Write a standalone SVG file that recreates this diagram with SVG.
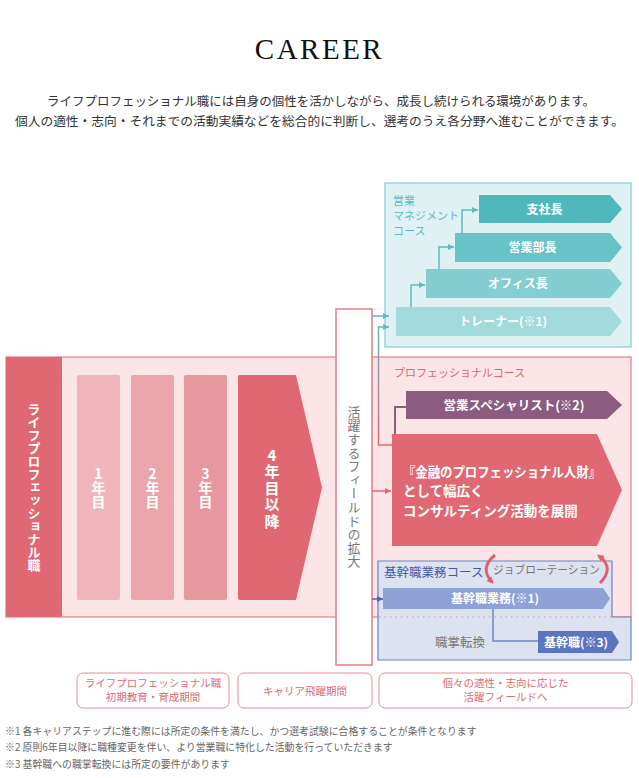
<svg xmlns="http://www.w3.org/2000/svg" width="639" height="778" viewBox="0 0 639 778">
<style>
.jp{font-family:"Noto Sans CJK JP","Noto Sans",sans-serif}
.w{fill:#fff;font-weight:bold}
.vt{writing-mode:vertical-rl;text-orientation:upright}
.lbl{fill:#e06872;font-size:10.5px}
.fn{fill:#666;font-size:9.9px}
.tl{fill:none;stroke:#5cbcc1;stroke-width:1.5}
</style>
<defs>
<marker id="mTeal" viewBox="0 0 6 6" markerWidth="6" markerHeight="6" markerUnits="userSpaceOnUse" refX="6" refY="3" orient="auto"><path d="M0,0 L6,3 L0,6 z" fill="#5cbcc1"/></marker>
<marker id="mPink" viewBox="0 0 6 6" markerWidth="6" markerHeight="6" markerUnits="userSpaceOnUse" refX="6" refY="3" orient="auto"><path d="M0,0 L6,3 L0,6 z" fill="#e06872"/></marker>
<marker id="mBlue" viewBox="0 0 6 6" markerWidth="6" markerHeight="6" markerUnits="userSpaceOnUse" refX="6" refY="3" orient="auto"><path d="M0,0 L6,3 L0,6 z" fill="#4a66b8"/></marker>
<marker id="mRed" viewBox="0 0 6 6" markerWidth="7" markerHeight="7" markerUnits="userSpaceOnUse" refX="4" refY="3" orient="auto"><path d="M0,0 L6,3 L0,6 z" fill="#e0606e"/></marker>
<linearGradient id="gTP" gradientUnits="userSpaceOnUse" x1="0" y1="327" x2="0" y2="445"><stop offset="0" stop-color="#5cbcc1"/><stop offset="1" stop-color="#e06872"/></linearGradient>
</defs>

<g id="title"><text x="319.5" y="59" text-anchor="middle" font-family="Liberation Serif,serif" font-size="29" letter-spacing="2.5" fill="#111">CAREER</text></g>
<g id="intro" class="jp" fill="#333" font-size="12.5">
<text x="47" y="105.5" textLength="548" lengthAdjust="spacingAndGlyphs">ライフプロフェッショナル職には自身の個性を活かしながら、成長し続けられる環境があります。</text>
<text x="15" y="125.5" textLength="609" lengthAdjust="spacingAndGlyphs">個人の適性・志向・それまでの活動実績などを総合的に判断し、選考のうえ各分野へ進むことができます。</text>
</g>

<g id="pro-area">
<rect x="6" y="357" width="625" height="260" fill="#fbe5e7" stroke="#e57c86" stroke-width="1.2"/>
</g>
<g id="kikan-course">
<path d="M378 561 H612 V617 H631 V660 H378 Z" fill="#dde2f0" stroke="#6b84c6" stroke-width="1.2"/>
<line x1="379" y1="617" x2="611" y2="617" stroke="#e88a93" stroke-width="1.2" stroke-dasharray="1.5 4"/>
<text class="jp" x="384" y="577" font-size="12.5" fill="#3f5aa6">基幹職業務コース</text>
<text class="jp" x="493" y="574" font-size="11.5" fill="#777" textLength="107" lengthAdjust="spacingAndGlyphs">ジョブローテーション</text>
<text class="jp" x="435" y="646.5" font-size="12.5" fill="#777">職掌転換</text>
</g>
<g id="mgmt-course">
<rect x="385" y="183" width="246" height="164" fill="#dff1f3" stroke="#86cdd2" stroke-width="1.2"/>
<text class="jp" x="393" y="205" font-size="11" fill="#5bbcc1">営業</text>
<text class="jp" x="393" y="219.5" font-size="11" fill="#5bbcc1">マネジメント</text>
<text class="jp" x="393" y="234.5" font-size="11" fill="#5bbcc1">コース</text>
</g>

<g id="node-lifepro">
<rect x="6" y="357" width="56" height="260" fill="#e06872"/>
<text class="jp w vt" x="34" y="487" text-anchor="middle" font-size="13">ライフプロフェッショナル職</text>
</g>
<g id="node-year1"><rect x="77" y="375" width="43" height="225" rx="2" fill="#efb5ba"/><text class="jp w vt" x="98.5" y="488" text-anchor="middle" font-size="14">1年目</text></g>
<g id="node-year2"><rect x="131" y="375" width="43" height="225" rx="2" fill="#eba6ac"/><text class="jp w vt" x="152.5" y="488" text-anchor="middle" font-size="14">2年目</text></g>
<g id="node-year3"><rect x="184" y="375" width="43" height="225" rx="2" fill="#e7989e"/><text class="jp w vt" x="205.5" y="488" text-anchor="middle" font-size="14">3年目</text></g>
<g id="node-year4"><path d="M240 375 H296 L322 487.5 L296 600 H240 Q238 600 238 598 V377 Q238 375 240 375 Z" fill="#e06872"/><text class="jp w vt" x="272" y="489" text-anchor="middle" font-size="15" letter-spacing="1.5">4年目以降</text></g>

<g id="node-field">
<rect x="336" y="309" width="36" height="356" fill="#fff" stroke="#e57c86" stroke-width="1.5"/>
<text class="jp vt" x="354" y="487" text-anchor="middle" font-size="13" letter-spacing="0.6" fill="#777">活躍するフィールドの拡大</text>
</g>

<g id="node-shishacho"><path d="M479 195 H610 L622 209 L610 223 H479 Z" fill="#4fb8bd"/><text class="jp w" x="544.5" y="213.5" text-anchor="middle" font-size="12">支社長</text></g>
<g id="node-eigyobucho"><path d="M455 233 H610 L622 247.5 L610 262 H455 Z" fill="#68c3c7"/><text class="jp w" x="532.5" y="252" text-anchor="middle" font-size="12">営業部長</text></g>
<g id="node-office"><path d="M426 269 H610 L622 283.5 L610 298 H426 Z" fill="#84ced1"/><text class="jp w" x="518" y="288" text-anchor="middle" font-size="12">オフィス長</text></g>
<g id="node-trainer"><path d="M396 307 H610 L622 321.5 L610 336 H396 Z" fill="#a3dadc"/><text class="jp w" x="503" y="326" text-anchor="middle" font-size="12">トレーナー(※1)</text></g>

<g id="pro-label"><text class="jp" x="394" y="377" font-size="11" fill="#e06872">プロフェッショナルコース</text></g>
<g id="node-specialist"><path d="M406 391 H607 L622 405 L607 419 H406 Z" fill="#8b5b80"/><text class="jp w" x="514" y="409.5" text-anchor="middle" font-size="12.5">営業スペシャリスト(※2)</text></g>
<g id="node-professional">
<path d="M392 434 H597 L622 490 L597 546 H392 Z" fill="#e06872"/>
<text class="jp w" x="403" y="476.5" font-size="13.5" textLength="198" lengthAdjust="spacingAndGlyphs">『金融のプロフェッショナル人財』</text>
<text class="jp w" x="403" y="496" font-size="13.5">として幅広く</text>
<text class="jp w" x="403" y="516" font-size="13.5">コンサルティング活動を展開</text>
</g>

<g id="node-kikangyomu"><path d="M383 588 H603 L610 598.5 L603 609 H383 Z" fill="#8fa2d6"/><text class="jp w" x="495" y="603" text-anchor="middle" font-size="12">基幹職業務(※1)</text></g>
<g id="node-kikanshoku"><path d="M538 631 H612 L619 642 L612 653 H538 Z" fill="#5b75bf"/><text class="jp w" x="576" y="646.5" text-anchor="middle" font-size="12">基幹職(※3)</text></g>

<g id="connectors">
<path class="tl" d="M411 307 V285 H425" marker-end="url(#mTeal)"/>
<path class="tl" d="M439 269 V247 H454" marker-end="url(#mTeal)"/>
<path class="tl" d="M462 233 V210 H478" marker-end="url(#mTeal)"/>
<path class="tl" d="M372 316 H389" marker-end="url(#mTeal)"/>
<path d="M392 445 H378.5 V327 H389" fill="none" stroke="url(#gTP)" stroke-width="1.5" marker-end="url(#mTeal)"/>
<path d="M395 434 V407 H406" fill="none" stroke="#8b5b80" stroke-width="2"/>
<path d="M372 491 H391" fill="none" stroke="#e06872" stroke-width="1.5" marker-end="url(#mPink)"/>
<path d="M372 599 H383" fill="none" stroke="#4a66b8" stroke-width="1.5" marker-end="url(#mBlue)"/>
<path d="M493 609 V641 H538" fill="none" stroke="#6b84c6" stroke-width="1.5"/>
<path d="M495 555 Q479 568 492 582" fill="none" stroke="#e0606e" stroke-width="3" marker-end="url(#mRed)"/>
<path d="M600 583 Q615 568 599 556" fill="none" stroke="#e0606e" stroke-width="3" marker-end="url(#mRed)"/>
</g>

<g id="bottom-labels" class="jp">
<rect x="77" y="673" width="152" height="35" rx="6" fill="#fff" stroke="#e88a93"/>
<text class="lbl" x="153" y="687" text-anchor="middle">ライフプロフェッショナル職</text>
<text class="lbl" x="153" y="701" text-anchor="middle">初期教育・育成期間</text>
<rect x="238" y="673" width="134" height="35" rx="6" fill="#fff" stroke="#e88a93"/>
<text class="lbl" x="305" y="694.5" text-anchor="middle">キャリア飛躍期間</text>
<rect x="379" y="673" width="253" height="35" rx="6" fill="#fff" stroke="#e88a93"/>
<text class="lbl" x="505.5" y="687" text-anchor="middle">個々の適性・志向に応じた</text>
<text class="lbl" x="505.5" y="701" text-anchor="middle">活躍フィールドへ</text>
</g>

<g id="footnotes" class="jp">
<text class="fn" x="5" y="735">※1 各キャリアステップに進む際には所定の条件を満たし、かつ選考試験に合格することが条件となります</text>
<text class="fn" x="5" y="751">※2 原則6年目以降に職種変更を伴い、より営業職に特化した活動を行っていただきます</text>
<text class="fn" x="5" y="768">※3 基幹職への職掌転換には所定の要件があります</text>
</g>
</svg>
